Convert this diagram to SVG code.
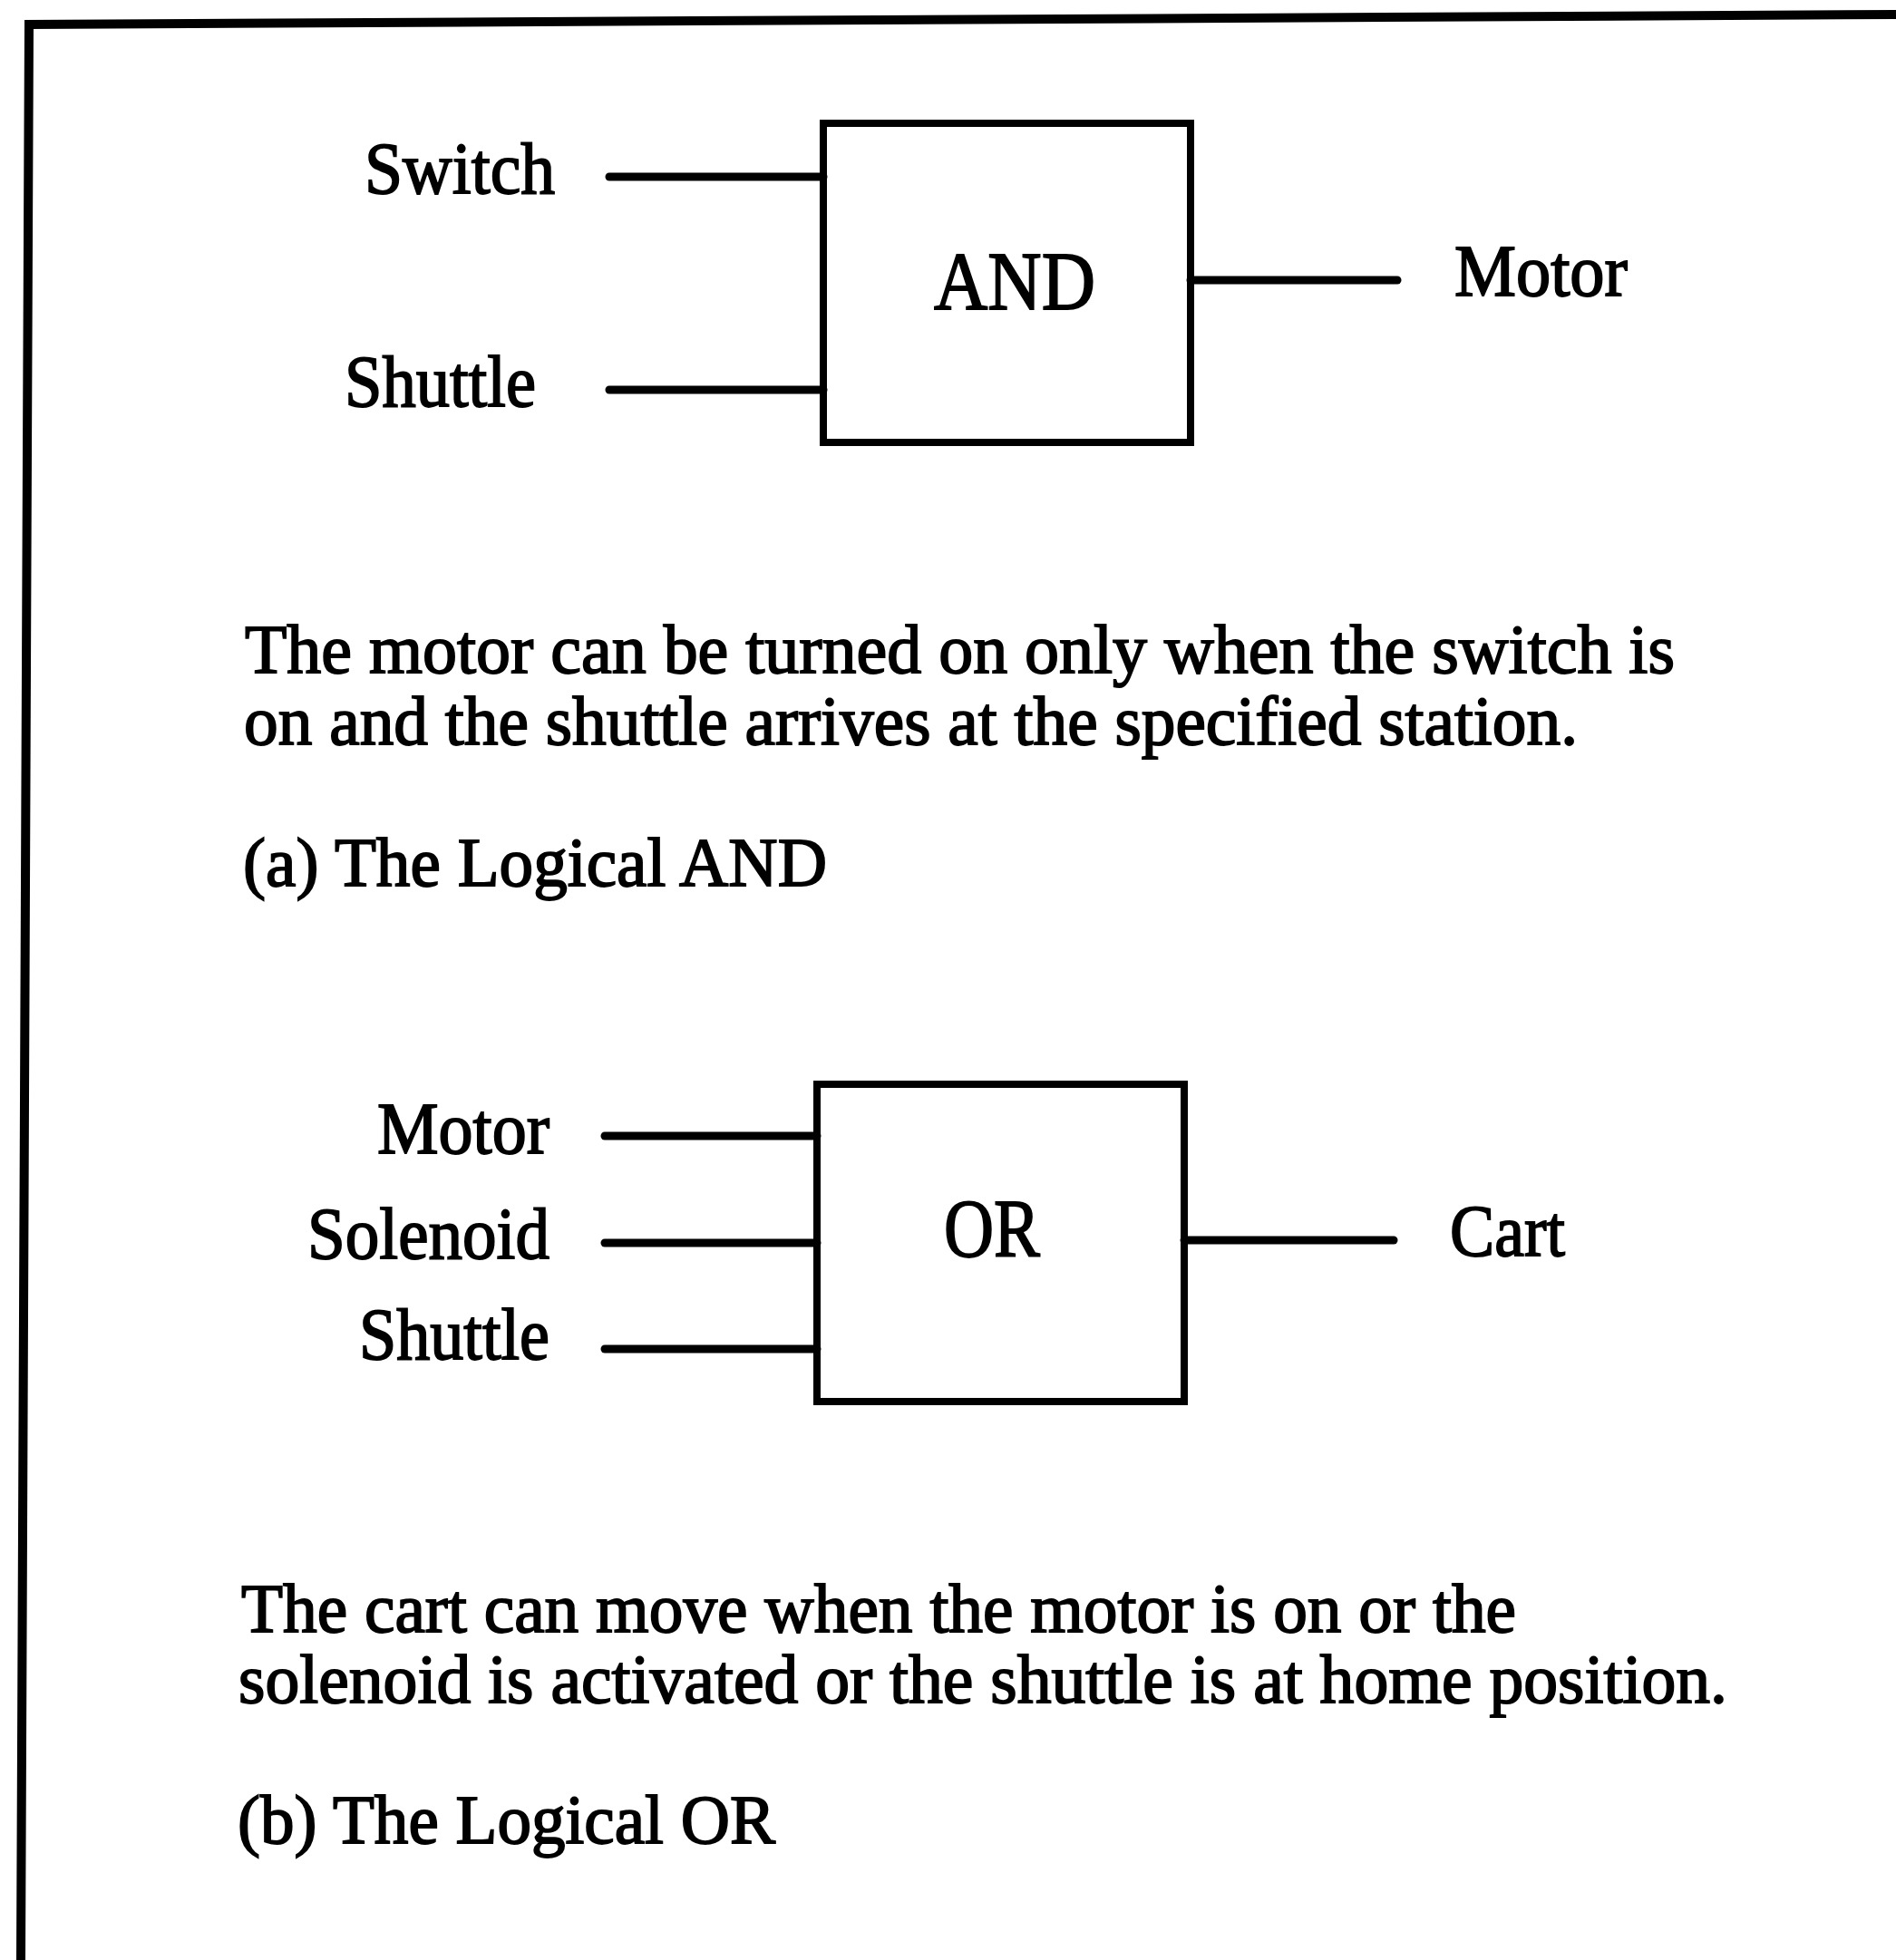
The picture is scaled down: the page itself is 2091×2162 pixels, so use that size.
<svg xmlns="http://www.w3.org/2000/svg" width="2091" height="2162" viewBox="0 0 2091 2162">
<style>
.t{font-family:"Liberation Serif","Times New Roman",serif;fill:#000;stroke:#000;stroke-width:1.8}
.lbl{font-size:80px}
.gate{font-size:92px}
.body{font-size:76px}
.box{fill:none;stroke:#000;stroke-width:8}
.wire{stroke:#000;stroke-width:9;stroke-linecap:round;fill:none}
.frame{fill:none;stroke:#000;stroke-width:10}
</style>
<rect width="2091" height="2162" fill="#fff"/>
<polyline class="frame" points="23,2162 32,27 2091,16"/>

<g id="and-gate">
<rect class="box" x="908" y="136" width="405" height="352"/>
<text class="t gate" x="1030" y="341" textLength="178" lengthAdjust="spacingAndGlyphs">AND</text>
</g>
<g id="and-in-switch"><text class="t lbl" x="402" y="213" textLength="210" lengthAdjust="spacingAndGlyphs">Switch</text></g>
<g id="and-in-shuttle"><text class="t lbl" x="380" y="448" textLength="211" lengthAdjust="spacingAndGlyphs">Shuttle</text></g>
<g id="and-out-motor"><text class="t lbl" x="1604" y="326" textLength="191" lengthAdjust="spacingAndGlyphs">Motor</text></g>

<g id="or-gate">
<rect class="box" x="901" y="1196" width="405" height="350"/>
<text class="t gate" x="1041" y="1386" textLength="106" lengthAdjust="spacingAndGlyphs">OR</text>
</g>
<g id="or-in-motor"><text class="t lbl" x="416" y="1272" textLength="190" lengthAdjust="spacingAndGlyphs">Motor</text></g>
<g id="or-in-solenoid"><text class="t lbl" x="339" y="1388" textLength="267" lengthAdjust="spacingAndGlyphs">Solenoid</text></g>
<g id="or-in-shuttle"><text class="t lbl" x="396" y="1499" textLength="210" lengthAdjust="spacingAndGlyphs">Shuttle</text></g>
<g id="or-out-cart"><text class="t lbl" x="1599" y="1385" textLength="127" lengthAdjust="spacingAndGlyphs">Cart</text></g>

<g id="connectors">
<line class="wire" x1="672" y1="195" x2="908" y2="195"/>
<line class="wire" x1="672" y1="430" x2="908" y2="430"/>
<line class="wire" x1="1313" y1="309" x2="1541" y2="309"/>
<line class="wire" x1="667" y1="1253" x2="901" y2="1253"/>
<line class="wire" x1="667" y1="1371" x2="901" y2="1371"/>
<line class="wire" x1="667" y1="1488" x2="901" y2="1488"/>
<line class="wire" x1="1306" y1="1368" x2="1537" y2="1368"/>
</g>

<g id="captions">
<text class="t body" x="270" y="742" textLength="1577" lengthAdjust="spacingAndGlyphs">The motor can be turned on only when the switch is</text>
<text class="t body" x="269" y="821" textLength="1471" lengthAdjust="spacingAndGlyphs">on and the shuttle arrives at the specified station.</text>
<text class="t body" x="268" y="977" textLength="644" lengthAdjust="spacingAndGlyphs">(a) The Logical AND</text>
<text class="t body" x="266" y="1800" textLength="1406" lengthAdjust="spacingAndGlyphs">The cart can move when the motor is on or the</text>
<text class="t body" x="263" y="1878" textLength="1642" lengthAdjust="spacingAndGlyphs">solenoid is activated or the shuttle is at home position.</text>
<text class="t body" x="262" y="2033" textLength="593" lengthAdjust="spacingAndGlyphs">(b) The Logical OR</text>
</g>
</svg>
